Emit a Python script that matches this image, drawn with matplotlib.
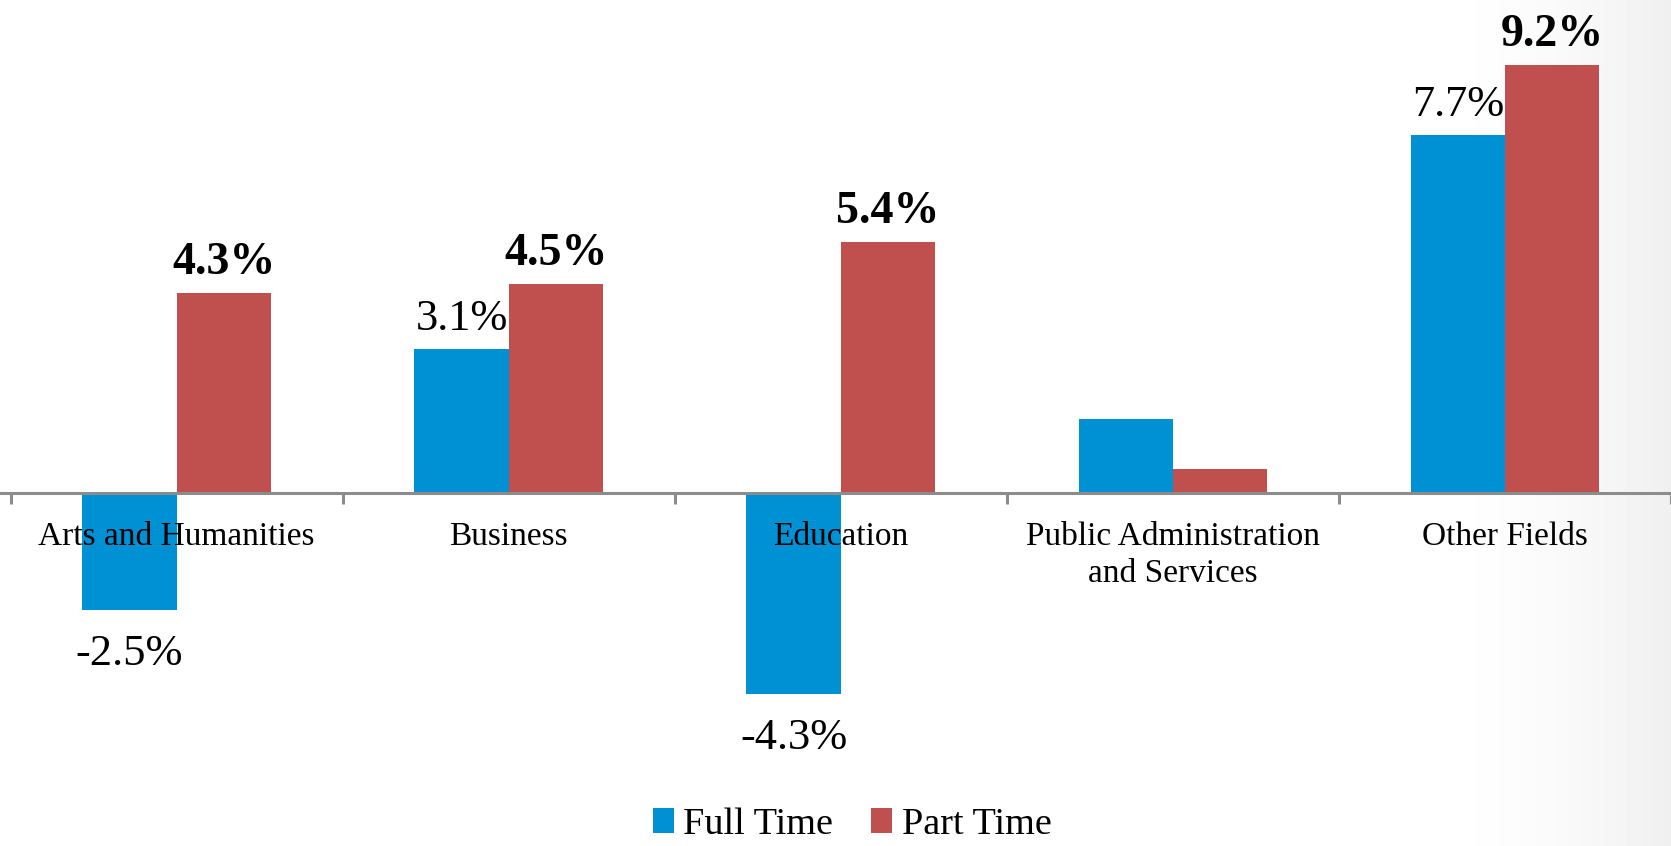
import matplotlib
matplotlib.use("Agg")
import matplotlib.pyplot as plt
import numpy as np

categories = ["Arts and Humanities", "Business", "Education",
              "Public Administration\nand Services", "Other Fields"]
full_time = [-2.5, 3.1, -4.3, 1.6, 7.7]
part_time = [4.3, 4.5, 5.4, 0.53, 9.2]
full_labels = ["-2.5%", "3.1%", "-4.3%", "", "7.7%"]
part_labels = ["4.3%", "4.5%", "5.4%", "", "9.2%"]
series_names = ["Full Time", "Part Time"]

BLUE = "#0091D5"
RED = "#C0504D"
W, H = 1671, 846
DPI = 100

fig = plt.figure(figsize=(W / DPI, H / DPI), dpi=DPI)
fig.patch.set_facecolor("white")

# subtle gray vignette on right side
bg = fig.add_axes([0, 0, 1, 1], zorder=0)
xs = np.linspace(0, 1, 400)
g = np.clip((xs - 0.85) / 0.15, 0, 1) ** 1.8
img = 1 - 0.06 * g
bg.imshow(np.tile(img, (10, 1)), cmap="gray", vmin=0, vmax=1, aspect="auto",
          extent=[0, 1, 0, 1])
bg.set_axis_off()

ax = fig.add_axes([0, 0, 1, 1], zorder=1)
ax.patch.set_alpha(0)

px_per_unit_x = 334.1
px_per_pct = 46.6
base_px = 493.4
x0 = -0.5 - 10.6 / px_per_unit_x
ax.set_xlim(x0, x0 + W / px_per_unit_x)
ax.set_ylim(-(H - base_px) / px_per_pct, base_px / px_per_pct)

x = np.arange(len(categories))
bw = 0.284
b1 = ax.bar(x - bw / 2, full_time, bw, color=BLUE, label=series_names[0], zorder=2)
b2 = ax.bar(x + bw / 2, part_time, bw, color=RED, label=series_names[1], zorder=2)

for s in ["top", "left", "right"]:
    ax.spines[s].set_visible(False)
ax.spines["bottom"].set_position(("data", 0))
ax.spines["bottom"].set_color("#8c8c8c")
ax.spines["bottom"].set_linewidth(2.2)
ax.spines["bottom"].set_zorder(3)
ax.set_yticks([])
ax.set_xticks(np.arange(-0.5, len(categories) + 0.5, 1.0))
ax.tick_params(axis="x", direction="out", length=8, width=2.2, color="#8c8c8c",
               labelbottom=False)

serif = ["Liberation Serif", "DejaVu Serif"]
lab_top = (521 - base_px) / px_per_pct
for xi, c in zip(x, categories):
    ax.text(xi, -lab_top, c, ha="center", va="top", fontsize=24,
            family=serif, linespacing=1.3, zorder=4)

up_off = 19 / px_per_pct
down_off = 55 / px_per_pct
for xi, v, t in zip(x, full_time, full_labels):
    if not t:
        continue
    y = v + up_off if v >= 0 else v - down_off
    ax.text(xi - bw / 2, y, t, ha="center", va="baseline", fontsize=32,
            family=serif, zorder=4)
for xi, v, t in zip(x, part_time, part_labels):
    if not t:
        continue
    y = v + up_off if v >= 0 else v - down_off
    ax.text(xi + bw / 2, y, t, ha="center", va="baseline", fontsize=33,
            family=serif, fontweight="bold", zorder=4)

leg = ax.legend(handles=[b1, b2], loc="lower center",
                bbox_to_anchor=(0.51, -0.036), ncol=2, frameon=False,
                prop={"family": serif, "size": 27.5},
                handlelength=0.55, handleheight=0.6, handletextpad=0.25,
                columnspacing=1.0)

fig.savefig("out.png", dpi=DPI)
